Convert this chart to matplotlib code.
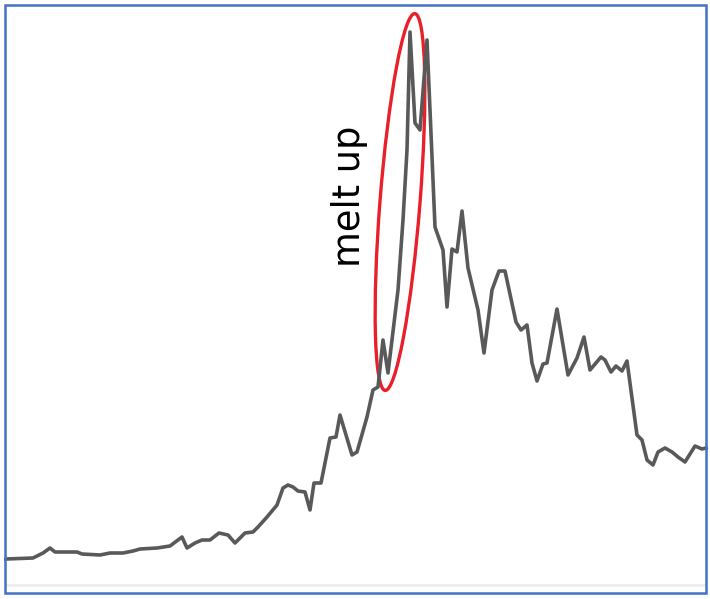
import matplotlib

matplotlib.use("Agg")
import matplotlib.pyplot as plt
from matplotlib.patches import Ellipse, Rectangle

# time steps and price values
t = [0, 27, 37, 44, 49, 71, 76, 94, 104, 117, 127, 134, 151, 164, 176, 181,
     189, 196, 204, 213, 222, 229, 239, 247, 252, 261, 271, 277, 282, 287,
     292, 299, 304, 308, 315, 324, 330, 334, 346, 351, 361, 367, 372, 377,
     382, 392, 397, 401, 404, 409, 414, 421, 429, 437, 441, 446, 451, 456,
     462, 472, 478, 486, 493, 499, 510, 515, 521, 526, 531, 537, 541, 551,
     562, 571, 578, 584, 595, 599, 605, 610, 616, 621, 631, 636, 641, 647,
     652, 659, 666, 672, 679, 689, 696, 700]
price = [31, 32, 37, 42, 38, 38, 36, 35, 37, 37, 39, 41, 42, 44, 53, 42,
         47, 50, 50, 57, 55, 47, 57, 58, 63, 73, 85, 102, 105, 103,
         99, 98, 80, 107, 107, 152, 153, 175, 135, 138, 173, 200, 203, 250,
         217, 300, 370, 440, 558, 467, 460, 550, 363, 340, 283, 341, 338, 379,
         322, 280, 237, 300, 319, 319, 268, 260, 265, 227, 209, 226, 227, 281,
         215, 232, 253, 220, 233, 230, 218, 224, 219, 229, 155, 150, 130, 125,
         138, 142, 138, 133, 128, 144, 141, 142]

label = "melt up"

W, H = 710, 599
fig = plt.figure(figsize=(W / 100, H / 100), dpi=100)
ax = fig.add_axes([6 / W, (H - 590) / H, 700 / W, 585 / H])
ax.set_xlim(0, 700)
ax.set_ylim(0, 585)
ax.axis("off")

# light grey baseline
ax.axhline(5, color="#eeeeee", lw=2)

ax.plot(t, price, color="#595959", lw=2.6, clip_on=False)

# red ring around the peak
ax.add_patch(Ellipse((394, 388), width=40, height=378, angle=-4.5,
                     fill=False, edgecolor="#e8202a", lw=2.4))

ax.text(354, 394, label, rotation=90, rotation_mode="anchor",
        ha="center", va="baseline", fontsize=26.5, family="DejaVu Sans",
        color="black")

# blue frame around the whole picture
fig.patches.append(Rectangle((5 / W, (H - 592.5) / H), 700.5 / W, 588 / H,
                             transform=fig.transFigure, fill=False,
                             edgecolor="#4472c4", lw=1.8))

fig.savefig("out.png", dpi=100)
